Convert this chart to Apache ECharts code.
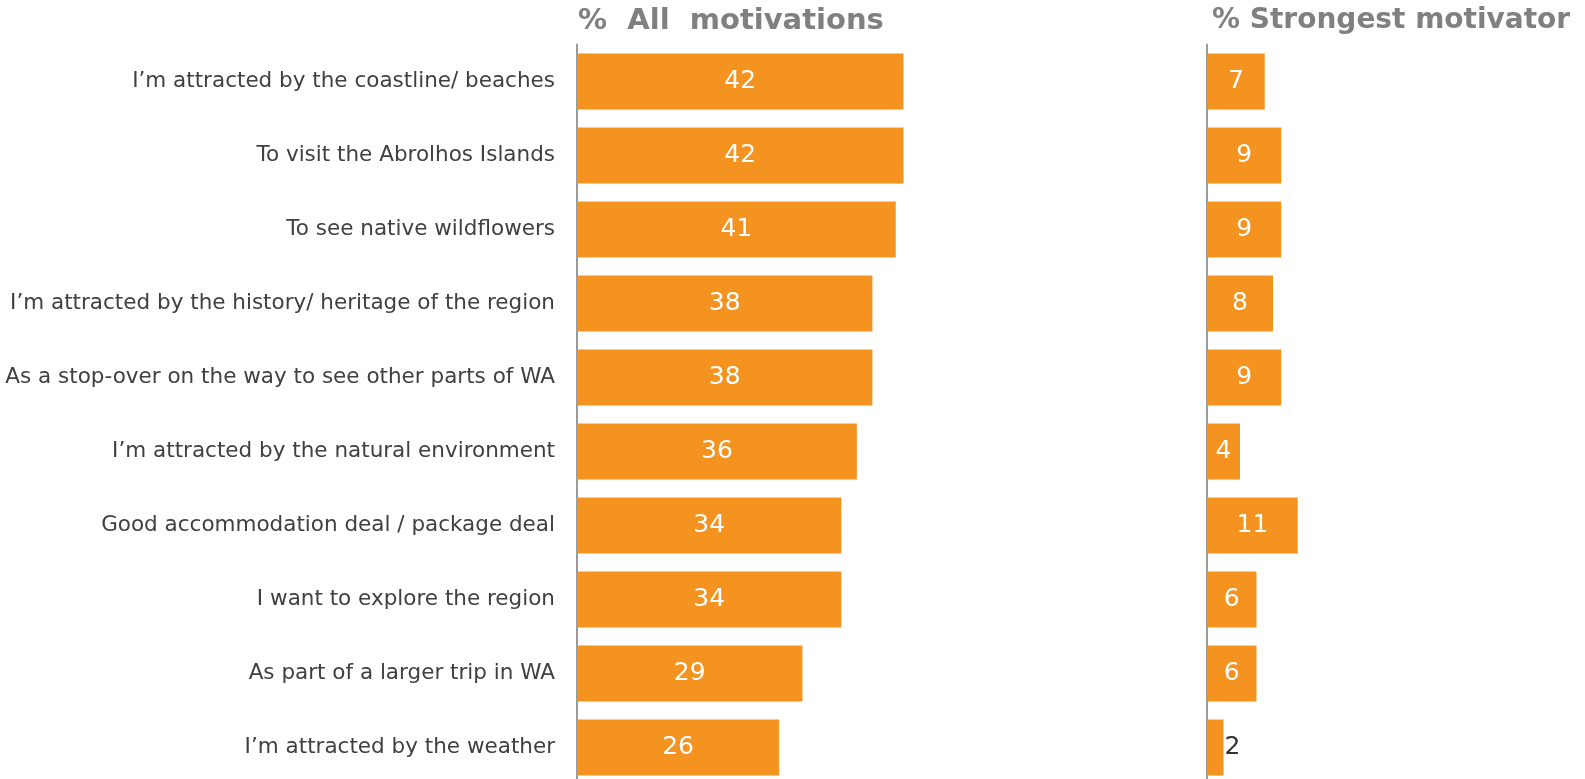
<!DOCTYPE html>
<html>
<head>
<meta charset="utf-8">
<script src="https://cdn.jsdelivr.net/npm/echarts@6/dist/echarts.min.js"></script>
<style>
  html, body { margin: 0; padding: 0; background: #fff; }
  #chart { width: 1585px; height: 779px; }
</style>
</head>
<body>
<div id="chart"></div>
<script>
var categories = [
  'I\u2019m attracted by the coastline/ beaches',
  'To visit the Abrolhos Islands',
  'To see native wildflowers',
  'I\u2019m attracted by the history/ heritage of the region',
  'As a stop-over on the way to see other parts of WA',
  'I\u2019m attracted by the natural environment',
  'Good accommodation deal / package deal',
  'I want to explore the region',
  'As part of a larger trip in WA',
  'I\u2019m attracted by the weather'
];
var allMotivations = [42, 42, 41, 38, 38, 36, 34, 34, 29, 26];
var strongestMotivator = [7, 9, 9, 8, 9, 4, 11, 6, 6, 2];

var barColor = '#F4931F';
var fontFamily = 'Verdana, "DejaVu Sans", sans-serif';

var chart = echarts.init(document.getElementById('chart'));

// small bars get their label outside, in dark text
function labelled(values) {
  return values.map(function (v) {
    if (v < 3) {
      return {
        value: v,
        label: { position: 'right', distance: 1, color: '#333333' }
      };
    }
    return v;
  });
}

var option = {
  animation: false,
  textStyle: { fontFamily: fontFamily },
  title: [{
    text: '%  All  motivations',
    left: 573,
    top: 2,
    textStyle: { fontSize: 29, fontWeight: 'bold', color: '#808080', fontFamily: fontFamily }
  }, {
    text: '% Strongest motivator',
    left: 1207,
    top: 2,
    textStyle: { fontSize: 28, fontWeight: 'bold', color: '#808080', fontFamily: fontFamily }
  }],
  grid: [
    { left: 577, top: 44.4, width: 388.7, height: 740, outerBoundsMode: 'none' },
    { left: 1207, top: 44.4, width: 99, height: 740, outerBoundsMode: 'none' }
  ],
  xAxis: [
    { gridIndex: 0, type: 'value', min: 0, max: 50, show: false },
    { gridIndex: 1, type: 'value', min: 0, max: 12, show: false }
  ],
  yAxis: [{
    gridIndex: 0,
    type: 'category',
    data: categories,
    inverse: true,
    axisTick: { show: false },
    axisLine: { lineStyle: { color: '#9a9a9a', width: 2 } },
    axisLabel: { fontSize: 21.5, color: '#404040', margin: 22, fontFamily: fontFamily }
  }, {
    gridIndex: 1,
    type: 'category',
    data: categories,
    inverse: true,
    axisTick: { show: false },
    axisLabel: { show: false },
    axisLine: { lineStyle: { color: '#9a9a9a', width: 2 } }
  }],
  series: [{
    type: 'bar',
    xAxisIndex: 0,
    yAxisIndex: 0,
    data: labelled(allMotivations),
    barWidth: 56,
    itemStyle: { color: barColor },
    label: { show: true, position: 'inside', color: '#ffffff', fontSize: 25, fontFamily: fontFamily }
  }, {
    type: 'bar',
    xAxisIndex: 1,
    yAxisIndex: 1,
    data: labelled(strongestMotivator),
    barWidth: 56,
    itemStyle: { color: barColor },
    label: { show: true, position: 'inside', color: '#ffffff', fontSize: 25, fontFamily: fontFamily }
  }]
};

chart.setOption(option);
</script>
</body>
</html>
